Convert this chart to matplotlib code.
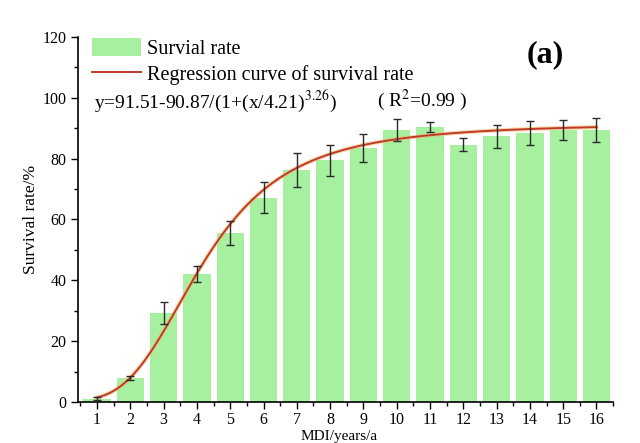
import numpy as np
import matplotlib
matplotlib.use("Agg")
import matplotlib.pyplot as plt
from matplotlib.ticker import MultipleLocator

# survival rate per MDI class
mdi = [1, 2, 3, 4, 5, 6, 7, 8, 9, 10, 11, 12, 13, 14, 15, 16]
survival = [1.0, 7.9, 29.3, 42.2, 55.6, 67.2, 76.3, 79.4, 83.5, 89.4, 90.4, 84.6, 87.4, 88.4, 89.3, 89.4]
errors = [0.5, 0.8, 3.6, 2.6, 4.0, 5.2, 5.6, 5.1, 4.5, 3.6, 1.5, 2.1, 3.8, 3.9, 3.3, 3.9]

# fitted curve parameters (printed on the chart)
fit_a, fit_b, fit_x0, fit_p = 91.51, 90.87, 4.21, 3.26

plt.rcParams['font.family'] = ['Liberation Serif', 'DejaVu Serif']
plt.rcParams['mathtext.fontset'] = 'stix'

fig = plt.figure(figsize=(6.4, 4.43), dpi=100)
ax = fig.add_axes([0.122, 0.0926, 0.836, 0.824])

bars = ax.bar(mdi, survival, width=0.82, color='#a6f0a0', label='Survial rate', zorder=1)
ax.errorbar(mdi, survival, yerr=errors, fmt='none', ecolor='#2a2a2a',
            elinewidth=1.0, capsize=3, capthick=1.0, zorder=3)

xs = np.linspace(mdi[0], mdi[-1], 300)
ys = fit_a - fit_b / (1 + (xs / fit_x0) ** fit_p)
ax.plot(xs, ys, color='#f0c070', lw=3.0, alpha=0.6, zorder=2)
line, = ax.plot(xs, ys, color='#c0392b', lw=1.4, zorder=2,
                label='Regression curve of survival rate')

ax.set_xlim(0.43, 16.5)
ax.set_ylim(0, 120)
ax.xaxis.set_major_locator(MultipleLocator(1))
ax.xaxis.set_minor_locator(MultipleLocator(0.5))
ax.yaxis.set_major_locator(MultipleLocator(20))
ax.yaxis.set_minor_locator(MultipleLocator(10))
ax.tick_params(which='major', direction='out', length=5, width=1.0, labelsize=11.5)
ax.tick_params(axis='x', which='major', pad=2)
ax.tick_params(which='minor', direction='out', length=3, width=1.0)
ax.spines['top'].set_visible(False)
ax.spines['right'].set_visible(False)
ax.spines['left'].set_linewidth(1.2)
ax.spines['bottom'].set_linewidth(1.2)

ax.set_ylabel('Survival rate/%', fontsize=12.5, labelpad=2)
fig.text(0.53, 0.014, 'MDI/years/a', fontsize=11, ha='center', va='center')

ax.legend([bars, line], ['Survial rate', 'Regression curve of survival rate'],
          loc='upper left', bbox_to_anchor=(0.0, 1.035), frameon=False,
          fontsize=14.5, handlelength=2.4, handleheight=1.0, handletextpad=0.3,
          borderaxespad=0.3, labelspacing=0.25)

ax.text(0.9, 99, 'y=91.51-90.87/(1+(x/4.21)$^{3.26}$)', fontsize=14, va='center')
ax.text(9.4, 99, '( R$^2$=0.99 )', fontsize=14, va='center')
ax.text(13.9, 114, '(a)', fontsize=23, fontweight='bold', va='center')

fig.savefig('out.png', dpi=100)
